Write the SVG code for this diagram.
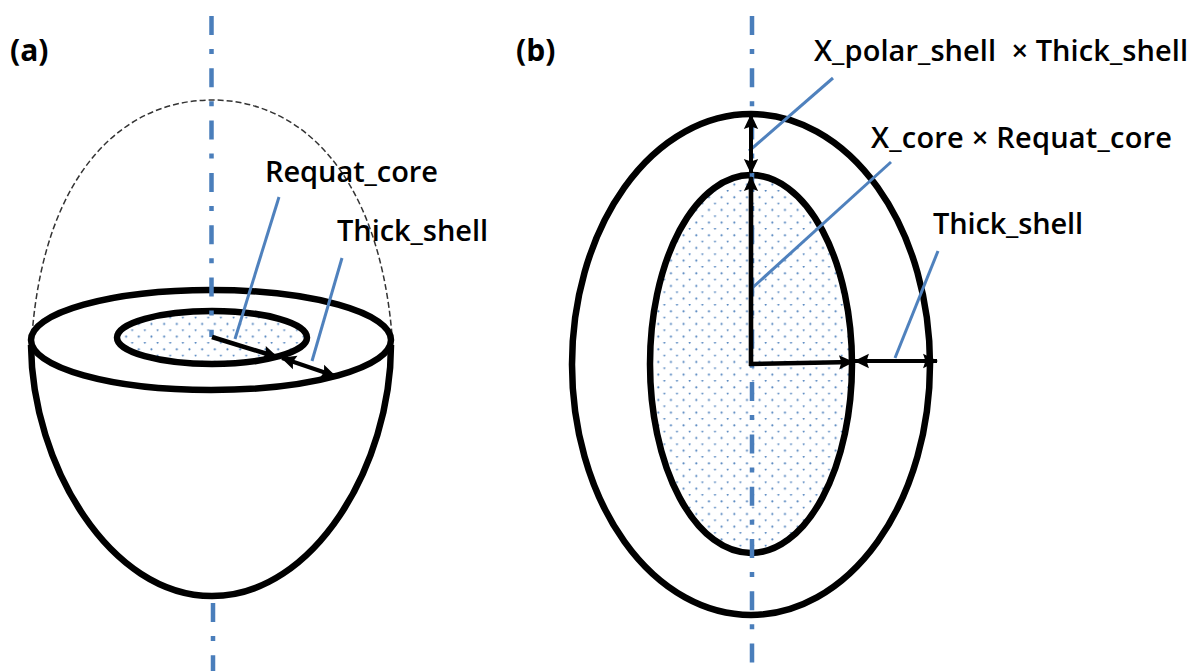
<svg xmlns="http://www.w3.org/2000/svg" width="1193" height="671" viewBox="0 0 1193 671">
<style>
.s{fill:none;stroke:#000;stroke-width:6.5}
.f{fill:url(#dots);stroke:#000;stroke-width:6.5}
.w{fill:#fff;stroke:#000;stroke-width:6.5}
.ax{fill:none;stroke:#4a7ebb;stroke-width:4.5;stroke-dasharray:19 14 5 14.3}
.b{fill:none;stroke:#4f81bd;stroke-width:3}
.a{fill:none;stroke:#000;stroke-width:4}
.m{stroke-width:4.6}
text{font-family:"Open Sans","Noto Sans",sans-serif;font-size:29px;font-weight:600;fill:#000;white-space:pre}
.p{font-size:30px;font-weight:700}
</style>
<defs>
<pattern id="dots" width="12.67" height="12.67" patternUnits="userSpaceOnUse">
<rect width="12.67" height="12.67" fill="#fff"/>
<circle cx="5.5" cy="0.6" r="1" fill="#4a7ebb"/>
<circle cx="12.1" cy="7.2" r="1" fill="#4a7ebb"/>
<circle cx="-0.57" cy="7.2" r="1" fill="#4a7ebb"/>
</pattern>
<marker id="ah" markerWidth="17" markerHeight="17" refX="4.7" refY="2.5" orient="auto-start-reverse" markerUnits="userSpaceOnUse" viewBox="0 0 5 5">
<path d="M0.6 0.4L5 2.5L0.6 4.6L1.3 2.5Z" fill="#000"/>
</marker>
</defs>
<g id="panel-a">
<path id="dome" d="M32 335C45 170 125 100 212 100C298 100 378 170 392 335" fill="none" stroke="#333" stroke-width="1.5" stroke-dasharray="6 3"/>
<path id="bowl" class="s" d="M31 345C32 465 110 596 212 596C314 596 391 465 391 345"/>
<ellipse id="rim" class="w" cx="211" cy="340" rx="180" ry="50"/>
<ellipse id="core-a" class="f" cx="212" cy="337.5" rx="95" ry="26.5"/>
</g>
<g id="panel-b">
<ellipse id="shell-b" class="s" cx="751" cy="364.5" rx="179" ry="250.5"/>
<ellipse id="core-b" class="f" cx="751" cy="364" rx="101" ry="189"/>
</g>
<g id="connectors">
<path class="ax" d="M211.5 16V337"/>
<path class="ax" d="M213 603V671"/>
<path class="ax" d="M752 16V663"/>
<path class="b" d="M279 197L235 339"/>
<path class="b" d="M342 258L312 361"/>
<path class="b" d="M833 78L749 151"/>
<path class="b" d="M891 162L750 290"/>
<path class="b" d="M938 251L895 358"/>
<path class="a m" d="M212 337L277 357" marker-end="url(#ah)"/>
<path class="a" d="M282 358L335 376" marker-start="url(#ah)" marker-end="url(#ah)"/>
<path class="a m" d="M751 366V177" marker-end="url(#ah)"/>
<path class="a" d="M751 115V173" marker-start="url(#ah)" marker-end="url(#ah)"/>
<path class="a m" d="M749 364L853 362" marker-end="url(#ah)"/>
<path class="a" d="M855 361L937 361" marker-start="url(#ah)" marker-end="url(#ah)"/>
</g>
<g id="labels">
<text class="p" x="10" y="61">(a)</text>
<text class="p" x="516" y="61">(b)</text>
<text x="265" y="182" textLength="173">Requat_core</text>
<text x="337" y="241" textLength="151">Thick_shell</text>
<text x="814" y="61" textLength="374">X_polar_shell  × Thick_shell</text>
<text x="871" y="148" textLength="301">X_core × Requat_core</text>
<text x="933" y="234" textLength="150">Thick_shell</text>
</g>
</svg>
